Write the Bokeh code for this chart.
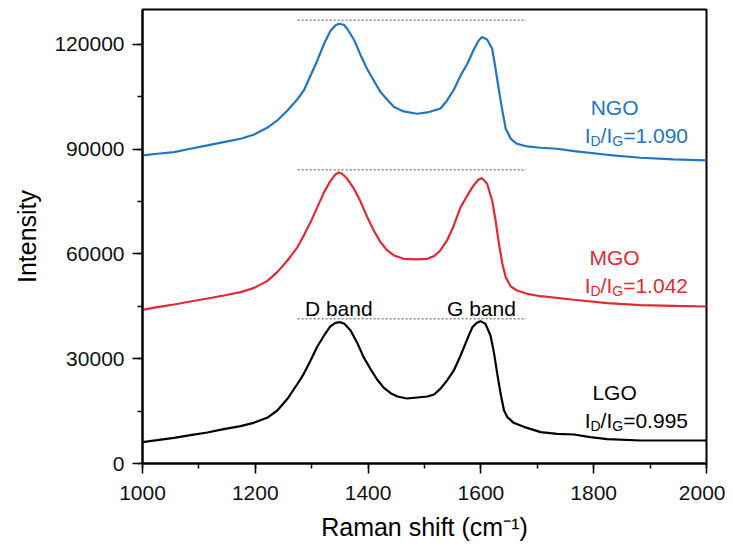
from bokeh.plotting import figure
from bokeh.models import Range1d, SingleIntervalTicker, Label
from bokeh.embed import file_html
from bokeh.resources import INLINE

# ---- data ----
blue_x = [1000, 1026, 1056, 1085, 1115, 1144, 1174, 1197, 1221, 1239, 1257, 1274, 1286, 1298, 1310, 1322,
          1333, 1342, 1348, 1357, 1363, 1375, 1387, 1398, 1410, 1422, 1434, 1446, 1463, 1487, 1505, 1517,
          1528, 1540, 1552, 1564, 1576, 1587, 1596, 1602, 1611, 1620, 1626, 1632, 1638, 1644, 1653, 1664,
          1682, 1706, 1735, 1765, 1824, 1883, 1942, 2000]
blue_y = [88210, 88687, 89164, 90119, 91074, 92028, 92983, 94129, 96134, 98234, 101098, 104153, 106826,
          111122, 115418, 120192, 123820, 125443, 125920, 125634, 124488, 121338, 116851, 113032, 109690,
          106349, 104153, 102053, 100812, 100143, 100525, 101098, 101575, 103962, 107017, 111122, 114464,
          118400, 121147, 122101, 121433, 118760, 113032, 106826, 101098, 95847, 92983, 91551, 90787, 90420,
          90130, 89450, 88400, 87550, 87070, 86780]

red_x = [1000, 1026, 1056, 1085, 1115, 1144, 1174, 1197, 1221, 1239, 1257, 1274, 1286, 1298, 1310, 1322,
         1333, 1342, 1348, 1354, 1363, 1375, 1387, 1398, 1410, 1422, 1434, 1446, 1463, 1487, 1505, 1517,
         1528, 1540, 1552, 1564, 1576, 1587, 1596, 1602, 1611, 1620, 1626, 1632, 1638, 1644, 1653, 1664,
         1682, 1706, 1765, 1824, 1883, 1942, 2000]
red_y = [44008, 44772, 45536, 46395, 47254, 48114, 49068, 50214, 52219, 54797, 58138, 61766, 65298, 69117,
         73413, 77709, 80860, 82769, 83342, 82960, 81528, 78664, 74845, 70740, 66730, 63389, 61002, 59570,
         58615, 58424, 58615, 59379, 61002, 63866, 68162, 73413, 76755, 79620, 81337, 81719, 80096, 75323,
         69594, 62910, 57183, 53364, 50691, 49546, 48591, 47900, 46880, 45910, 45340, 45150, 44960]

black_x = [1000, 1026, 1056, 1085, 1115, 1144, 1174, 1197, 1221, 1239, 1257, 1274, 1286, 1298, 1310, 1322,
           1333, 1342, 1351, 1358, 1369, 1381, 1392, 1404, 1416, 1428, 1440, 1452, 1469, 1487, 1505, 1517,
           1528, 1540, 1552, 1564, 1576, 1585, 1593, 1599, 1608, 1617, 1623, 1629, 1635, 1641, 1647, 1658,
           1676, 1706, 1735, 1765, 1794, 1824, 1883, 1942, 2000]
black_y = [6110, 6680, 7350, 8113, 8877, 9832, 10691, 11646, 13078, 15178, 18519, 22625, 25680, 29498, 33508,
           36659, 39236, 40287, 40478, 40000, 38091, 34463, 30453, 27112, 24057, 21670, 20142, 19188, 18615,
           18901, 19188, 19761, 21384, 23770, 26634, 30931, 35704, 39045, 40287, 40764, 40000, 36659, 31885,
           25680, 19951, 15178, 13269, 11646, 10500, 8973, 8500, 8300, 7540, 6970, 6590, 6590, 6590]

ref_x = [1275, 1680]
ref_levels = [126900, 84100, 41440]

names = ["NGO", "MGO", "LGO"]
ratios = ["1.090", "1.042", "0.995"]
name_y = [102040, 59080, 20420]
ratio_y = [93940, 51000, 12320]
band_names = ["D band", "G band"]
band_x = [1348, 1601]
band_y = 44300

BLUE = "#2175c3"
RED = "#e12a33"
BLACK = "#000000"
colors = [BLUE, RED, BLACK]
FONT = "Liberation Sans"

p = figure(frame_width=564, frame_height=454, min_border_left=142, min_border_right=19,
           min_border_top=9, min_border_bottom=75,
           x_range=Range1d(1000, 2000), y_range=Range1d(0, 130000),
           output_backend="svg", toolbar_location=None)
p.background_fill_color = "white"
p.border_fill_color = "white"
p.outline_line_color = "black"
p.outline_line_width = 2
p.xgrid.visible = False
p.ygrid.visible = False

p.xaxis.ticker = SingleIntervalTicker(interval=200, num_minor_ticks=2)
p.yaxis.ticker = SingleIntervalTicker(interval=30000, num_minor_ticks=2)
for ax in (p.xaxis, p.yaxis):
    ax.axis_line_width = 2
    ax.major_tick_line_width = 1.5
    ax.minor_tick_line_width = 1.5
    ax.major_tick_out = 10
    ax.major_tick_in = 0
    ax.minor_tick_out = 5
    ax.minor_tick_in = 0
    ax.major_label_text_font = FONT
    ax.major_label_text_font_size = "21px"
    ax.major_label_text_color = "#111111"
    ax.axis_label_text_font = FONT
    ax.axis_label_text_font_size = "25px"
    ax.axis_label_text_font_style = "normal"
    ax.axis_label_text_color = "black"
p.yaxis.formatter.use_scientific = False
p.xaxis.axis_label = "Raman shift (cm\u207b\u00b9)"
p.yaxis.axis_label = "Intensity"
p.xaxis.major_label_standoff = 12
p.yaxis.major_label_standoff = 8
p.xaxis.axis_label_standoff = 10
p.yaxis.axis_label_standoff = 10

for lv in ref_levels:
    p.line(ref_x, [lv, lv], line_color="#8a8a8a", line_width=1.5, line_dash="2 2")

p.line(blue_x, blue_y, line_color=BLUE, line_width=2.2)
p.line(red_x, red_y, line_color=RED, line_width=2.2)
p.line(black_x, black_y, line_color=BLACK, line_width=2.2)

for bn, bx in zip(band_names, band_x):
    p.add_layout(Label(x=bx, y=band_y, text=bn, text_align="center", text_baseline="alphabetic",
                       text_font=FONT, text_font_size="21px", text_color="black"))

name_x = 1837
ratio_x = 1784
for nm, r, ny, ry, c in zip(names, ratios, name_y, ratio_y, colors):
    p.add_layout(Label(x=name_x, y=ny, text=nm, text_align="center", text_baseline="alphabetic",
                       text_font=FONT, text_font_size="21px", text_color=c))
    pieces = [("I", 0, 0, "21px"), ("D", 5.8, -6, "14px"), ("/I", 15.9, 0, "21px"),
              ("G", 27.6, -6, "14px"), ("=" + r, 38.5, 0, "21px")]
    for t, xo, yo, fs in pieces:
        p.add_layout(Label(x=ratio_x, y=ry, x_offset=xo, y_offset=yo, text=t, text_align="left",
                           text_baseline="alphabetic", text_font=FONT, text_font_size=fs, text_color=c))

open("out.html", "w").write(file_html(p, INLINE))
